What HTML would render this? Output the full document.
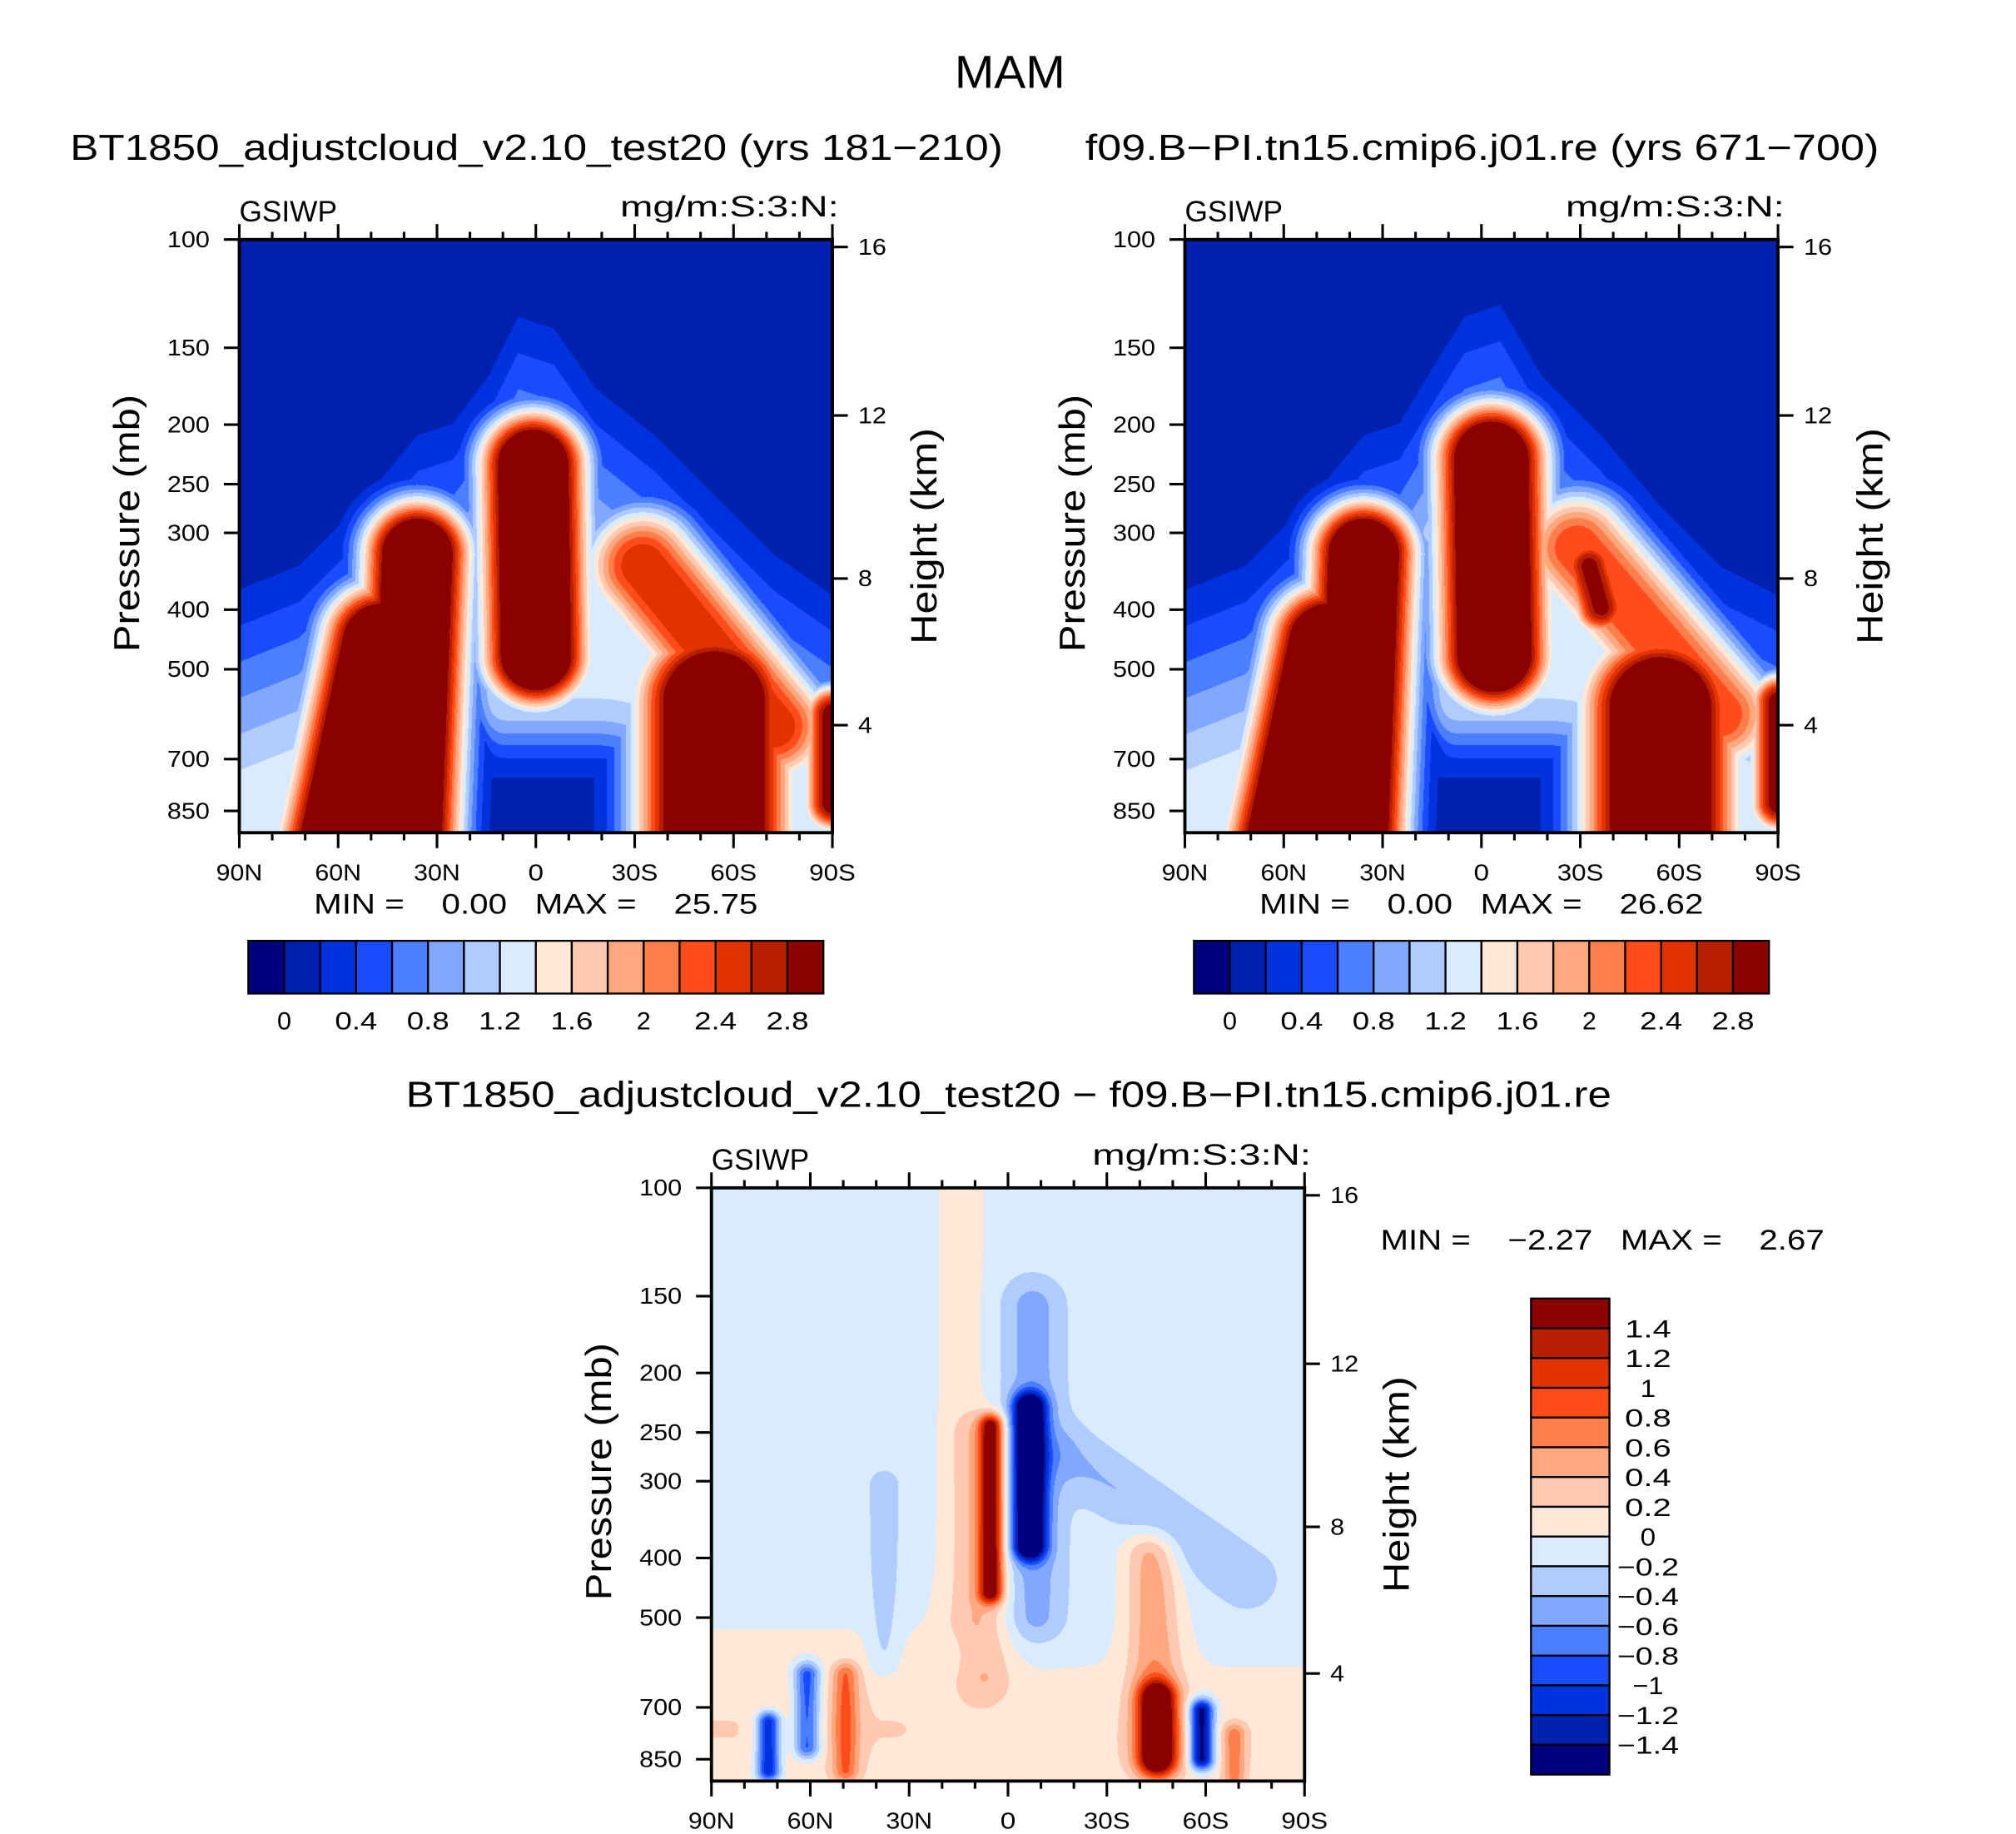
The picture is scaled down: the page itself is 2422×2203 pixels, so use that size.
<!DOCTYPE html>
<html><head><meta charset="utf-8"><title>MAM GSIWP</title>
<style>
html,body{margin:0;padding:0;background:#fff;}
#root{position:relative;width:2422px;height:2203px;overflow:hidden;background:#fff;}
canvas{position:absolute;}
svg{position:absolute;left:0;top:0;}
text{font-family:"Liberation Sans",sans-serif;fill:#000;}
</style></head>
<body>
<div id="root">
<canvas id="c1"></canvas>
<canvas id="c2"></canvas>
<canvas id="c3"></canvas>
<svg id="svg" width="2422" height="2203" viewBox="0 0 1567 1425"></svg>
</div>
<script>
// ---- data ----
const latLabels = ["90N","60N","30N","0","30S","60S","90S"];
const presLevels = [100,150,200,250,300,400,500,700,850];
const heightTicks = [4,8,12,16];
const absColors = ["#00007f","#0020b0","#0033dd","#1a4cff","#4c7fff","#80a8ff","#b0ccff","#d8ebff","#ffe8d8","#ffc8b0","#ffa880","#ff7f4c","#ff4c1a","#e03300","#b81e00","#8b0000"];
const absLabels = ["0","0.4","0.8","1.2","1.6","2","2.4","2.8"];
const diffLabels = ["1.4","1.2","1","0.8","0.6","0.4","0.2","0","\u22120.2","\u22120.4","\u22120.6","\u22120.8","\u22121","\u22121.2","\u22121.4"];
// envelope top profile (normalized u -> v)
const envTopU = [0,0.1,0.2,0.3,0.36,0.42,0.47,0.53,0.6,0.7,0.8,0.9,1];
const envTopVA = [0.56,0.52,0.42,0.3,0.28,0.2,0.1,0.12,0.22,0.3,0.4,0.5,0.57];
const envTopVB = [0.56,0.52,0.42,0.3,0.28,0.18,0.1,0.08,0.2,0.3,0.42,0.52,0.57];
// positive features: [u1,v1,u2,v2,sigma,amp]
const blobsA = [
 [0.3,0.53,0.28,1.05,0.09,4],[0.24,0.68,0.16,1.05,0.1,4],
 [0.495,0.38,0.5,0.7,0.09,4],
 [0.68,0.55,0.9,0.82,0.1,2.6],[0.8,0.78,0.8,1.05,0.13,4],[1.0,0.8,1.0,0.95,0.05,3]];
const blobsB = [
 [0.3,0.53,0.28,1.05,0.09,4],[0.24,0.68,0.16,1.05,0.1,4],
 [0.515,0.37,0.52,0.7,0.095,4],
 [0.66,0.52,0.9,0.8,0.1,2.4],[0.68,0.55,0.7,0.62,0.05,2.9],[0.8,0.79,0.8,1.05,0.13,4],[1.0,0.78,1.0,0.95,0.05,3]];
// envelope dips
const dipsA = [[0.38,0.55,0.38,0.85,0.035,-0.7]];
const dipsB = [[0.39,0.55,0.39,0.85,0.035,-0.7]];
const lowA = [0.42,1.0,0.6,1.0,0.17];
const lowB = [0.42,1.0,0.61,1.0,0.17];
const blobsD = [
 [0.42,0.0,0.42,0.72,0.045,0.2],[0.0,0.93,1.0,0.93,0.14,0.22],[0.0,0.85,0.3,0.85,0.16,0.1],
 [0.47,0.4,0.47,0.68,0.02,1.5],[0.455,0.42,0.46,0.82,0.045,0.35],
 [0.535,0.37,0.535,0.6,0.026,-2.0],[0.54,0.2,0.545,0.72,0.05,-0.4],
 [0.6,0.45,0.9,0.66,0.05,-0.3],[0.29,0.5,0.29,0.8,0.025,-0.25],
 [0.75,0.86,0.75,0.96,0.03,1.7],[0.74,0.62,0.75,0.95,0.045,0.6],
 [0.825,0.88,0.825,0.96,0.02,-1.6],[0.095,0.9,0.095,0.98,0.02,-1.3],
 [0.16,0.82,0.16,0.94,0.022,-1.0],[0.225,0.82,0.225,0.98,0.022,0.7],[0.88,0.92,0.88,1.0,0.02,0.6]];
const minMax = [["0.00","25.75"],["0.00","26.62"],["\u22122.27","2.67"]];

// ---- layout ----
const S = 2422/1567;
const svg = document.getElementById('svg');
const NS = "http://www.w3.org/2000/svg";
function el(tag, attrs, parent){const e=document.createElementNS(NS,tag);for(const k in attrs)e.setAttribute(k,attrs[k]);(parent||svg).appendChild(e);return e;}
function txt(x,y,s,size,anchor,parent,len){const a={x:x,y:y,'font-size':size,'text-anchor':anchor||'start'};if(len){a.textLength=len;a.lengthAdjust='spacingAndGlyphs';}const t=el('text',a,parent);t.textContent=s;return t;}

function segDist(u,v,b){const dx=b[2]-b[0],dy=b[3]-b[1];const L=dx*dx+dy*dy;let t=L>0?((u-b[0])*dx+(v-b[1])*dy)/L:0;t=Math.max(0,Math.min(1,t));const px=b[0]+t*dx-u,py=b[1]+t*dy-v;return Math.sqrt(px*px+py*py);}
function interp(xs,ys,x){for(let i=0;i<xs.length-1;i++){if(x<=xs[i+1]){const f=(x-xs[i])/(xs[i+1]-xs[i]);return ys[i]+f*(ys[i+1]-ys[i]);}}return ys[ys.length-1];}
function feat(u,v,blobs,p){let s=0;for(const b of blobs){const d=segDist(u,v,b)/b[4];s+=b[5]*Math.exp(-Math.pow(d,p));}return s;}
function featMax(u,v,blobs,p){let s=-1;for(const b of blobs){const d=segDist(u,v,b)/b[4];s=Math.max(s,b[5]*Math.exp(-Math.pow(d,p)));}return s;}
function absField(top,low,blobs,dips){return (u,v)=>{
  const tp=interp(envTopU,top,u);let env=1.15*Math.max(0,Math.min(1,(v-tp)/0.35));
  const dl=segDist(u,v,low)/low[4];const mask=Math.exp(-Math.pow(dl,4));env*=(1-mask);
  const base=Math.max(0.05,0.1+env+feat(u,v,dips,2.5));
  return Math.max(base,featMax(u,v,blobs,2.5));};}
function diffField(u,v){return -0.1+feat(u,v,blobsD,2);}
function rgb(h){return [parseInt(h.substr(1,2),16),parseInt(h.substr(3,2),16),parseInt(h.substr(5,2),16)];}
const rgbs = absColors.map(rgb);

function drawField(id,x0,y0,w,h,fn,offset){
 const c=document.getElementById(id);
 const W=Math.round(w*S),H=Math.round(h*S);
 c.width=W;c.height=H;c.style.left=(x0*S)+'px';c.style.top=(y0*S)+'px';
 const ctx=c.getContext('2d');const img=ctx.createImageData(W,H);
 for(let j=0;j<H;j++)for(let i=0;i<W;i++){
  const v=fn(i/W,j/H);
  let k=Math.floor((v+offset)/0.2);k=Math.max(0,Math.min(15,k));
  const p=(j*W+i)*4,col=rgbs[k];img.data[p]=col[0];img.data[p+1]=col[1];img.data[p+2]=col[2];img.data[p+3]=255;}
 ctx.putImageData(img,0,0);
}

function isaP(z){if(z<=11){return 1013.25*Math.pow((288.15-6.5*z)/288.15,5.256);}return 226.3*Math.exp(-(z-11)/6.34);}

function panel(x0,y0,name,mm,mmX,mmY){
 const w=461,h=461;
 const g=el('g',{});
 
 
 const yP=p=>y0+207.5*Math.log(p/100);
 const xL=i=>x0+i*w/6;
 const fr=el('rect',{x:x0,y:y0,width:w,height:h,fill:'none',stroke:'#000','stroke-width':2.5},g);
 
 
 for(let k=0;k<=18;k++){const x=x0+k*w/18;const L=(k%3===0)?12:6;
  el('line',{x1:x,y1:y0+h,x2:x,y2:y0+h+L,stroke:'#000','stroke-width':2},g);
  el('line',{x1:x,y1:y0,x2:x,y2:y0-L,stroke:'#000','stroke-width':2},g);}
 latLabels.forEach((s,i)=>{const t=txt(xL(i),y0+h+37,s,18,'middle',g,s.length*12);
  
  });
 presLevels.forEach(p=>{const y=yP(p);el('line',{x1:x0,y1:y,x2:x0-12,y2:y,stroke:'#000','stroke-width':2},g);
  const t=txt(x0-23,y+6,String(p),18,'end',g,String(p).length*11);
  
  });
 heightTicks.forEach(z=>{const y=yP(isaP(z));el('line',{x1:x0+w,y1:y,x2:x0+w+12,y2:y,stroke:'#000','stroke-width':2},g);
  const t=txt(x0+w+20,y+6,String(z),18,'start',g,String(z).length*11);
  
  });
 const yt=txt(0,0,'Pressure  (mb)',28,'middle',g,200);yt.setAttribute('transform',`translate(${x0-78},${y0+h/2-10}) rotate(-90)`);
 
 
 const ht=txt(0,0,'Height  (km)',28,'middle',g,168);ht.setAttribute('transform',`translate(${x0+w+81},${y0+h/2}) rotate(-90)`);
 
 
 const l1=txt(x0,y0-14,'GSIWP',23,'start',g,76);
 
 
 const l2=txt(x0+w+5,y0-18,'mg/m:S:3:N:',23,'end',g,170);
 
 
 const m=txt(mmX,mmY,`MIN =    ${mm[0]}   MAX =    ${mm[1]}`,22,'start',g,345);
 m.style.whiteSpace='pre';
 
 
}

function hbar(x0,y0){
 const w=447,h=41,bw=w/16;
 const g=el('g',{});
 
 
 absColors.forEach((c,i)=>{const r=el('rect',{x:x0+i*bw,y:y0,width:bw,height:h,fill:c,stroke:'#000','stroke-width':1.5},g);
  
  });
 absLabels.forEach((s,i)=>{const t=txt(x0+(1+2*i)*bw,y0+h+28,s,19,'middle',g,s.length*11);
  
  });
}
function vbar(x0,y0){
 const w=61,h=370,bh=h/16;
 const g=el('g',{});
 
 
 absColors.slice().reverse().forEach((c,i)=>{const r=el('rect',{x:x0,y:y0+i*bh,width:w,height:bh,fill:c,stroke:'#000','stroke-width':1.5},g);
  
  });
 diffLabels.forEach((s,i)=>{const t=txt(x0+w+30,y0+(i+1)*bh+7,s,19,'middle',g,s.length*12);
  
  });
}

drawField('c1',186,186,461,461,absField(envTopVA,lowA,blobsA,dipsA),0.2);
drawField('c2',921,186,461,461,absField(envTopVB,lowB,blobsB,dipsB),0.2);
drawField('c3',553,923,461,461,diffField,1.6);

const mt=txt(785,68,'MAM',36,'middle',null,86);


const t1=txt(417,124,'BT1850_adjustcloud_v2.10_test20 (yrs 181\u2212210)',28,'middle',null,725);


const t2=txt(1152,124,'f09.B\u2212PI.tn15.cmip6.j01.re (yrs 671\u2212700)',28,'middle',null,617);


const t3=txt(784,860,'BT1850_adjustcloud_v2.10_test20 \u2212 f09.B\u2212PI.tn15.cmip6.j01.re',28,'middle',null,937);



panel(186,186,'panel-test20',minMax[0],244,710);
panel(921,186,'panel-f09',minMax[1],979,710);
panel(553,923,'panel-difference',minMax[2],1073,971);
hbar(193,731);
hbar(928,731);
vbar(1190,1009);
</script>
</body></html>
